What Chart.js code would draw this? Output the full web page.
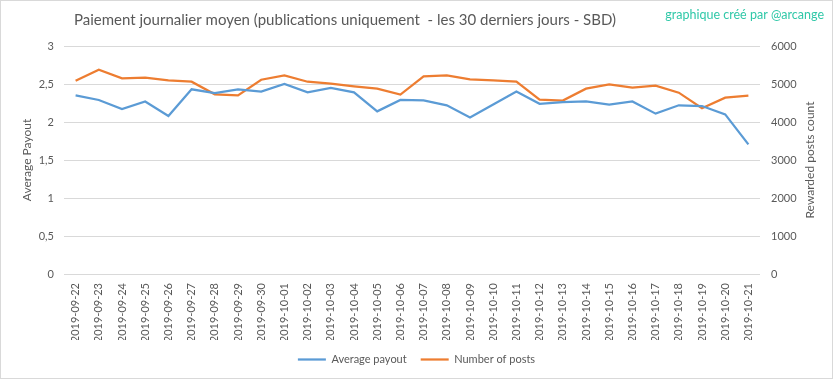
<!DOCTYPE html>
<html>
<head>
<meta charset="utf-8">
<script src="https://cdn.jsdelivr.net/npm/chart.js@4/dist/chart.umd.min.js"></script>
<style>
html,body{margin:0;padding:0;background:#fff;}
#wrap{width:833px;height:379px;}
</style>
</head>
<body>
<div id="wrap"><canvas id="c" width="833" height="379"></canvas></div>
<script>
const chartTitle = "Paiement journalier moyen (publications uniquement  - les 30 derniers jours - SBD)";
const watermark = "graphique créé par @arcange";
const dates = ["2019-09-22","2019-09-23","2019-09-24","2019-09-25","2019-09-26","2019-09-27","2019-09-28","2019-09-29","2019-09-30","2019-10-01","2019-10-02","2019-10-03","2019-10-04","2019-10-05","2019-10-06","2019-10-07","2019-10-08","2019-10-09","2019-10-10","2019-10-11","2019-10-12","2019-10-13","2019-10-14","2019-10-15","2019-10-16","2019-10-17","2019-10-18","2019-10-19","2019-10-20","2019-10-21"];
const averagePayout = [2.35,2.29,2.17,2.27,2.08,2.43,2.38,2.43,2.40,2.50,2.39,2.45,2.39,2.14,2.29,2.285,2.22,2.06,2.23,2.40,2.24,2.26,2.27,2.23,2.27,2.11,2.22,2.21,2.10,1.705];
const numberOfPosts = [5087,5375,5147,5165,5095,5060,4728,4702,5113,5226,5060,5008,4938,4877,4720,5200,5226,5121,5095,5060,4590,4563,4877,4990,4903,4955,4772,4361,4641,4693];
const leftTickLabels = ["0","0,5","1","1,5","2","2,5","3"];
const rightTickLabels = ["0","1000","2000","3000","4000","5000","6000"];
const seriesNames = ["Average payout","Number of posts"];
const leftAxisTitle = "Average Payout";
const rightAxisTitle = "Rewarded posts count";

const FONT = "Lato, 'Open Sans', sans-serif";
const GREY = "#595959";

const decor = {
  id: 'decor',
  beforeDraw(chart) {
    const ctx = chart.ctx;
    ctx.save();
    ctx.fillStyle = '#fff';
    ctx.fillRect(0,0,chart.width,chart.height);
    ctx.restore();
  },
  afterDraw(chart) {
    const ctx = chart.ctx;
    const ca = chart.chartArea;
    ctx.save();
    ctx.strokeStyle = '#d9d9d9';
    ctx.lineWidth = 1;
    ctx.strokeRect(0.5,0.5,chart.width-1,chart.height-1);
    ctx.fillStyle = GREY;
    ctx.font = "15px " + FONT;
    ctx.textAlign = 'center';
    ctx.textBaseline = 'middle';
    ctx.fillText(chartTitle, 345, 20);
    ctx.fillStyle = '#30c8a8';
    ctx.font = "12.5px " + FONT;
    ctx.textAlign = 'right';
    ctx.fillText(watermark, 824, 15);
    // right axis title, reading bottom-to-top
    ctx.save();
    ctx.translate(810, (ca.top + ca.bottom) / 2);
    ctx.rotate(-Math.PI / 2);
    ctx.fillStyle = GREY;
    ctx.font = "12px " + FONT;
    ctx.textAlign = 'center';
    ctx.textBaseline = 'middle';
    ctx.fillText(rightAxisTitle, 0, 0);
    ctx.restore();
    ctx.restore();
  }
};

new Chart(document.getElementById('c'), {
  type: 'line',
  data: {
    labels: dates,
    datasets: [
      { label: seriesNames[0], data: averagePayout, yAxisID: 'y', borderColor: '#5b9bd5', backgroundColor: '#5b9bd5', borderWidth: 2.25, pointRadius: 0, tension: 0 },
      { label: seriesNames[1], data: numberOfPosts, yAxisID: 'y1', borderColor: '#ed7d31', backgroundColor: '#ed7d31', borderWidth: 2.25, pointRadius: 0, tension: 0 }
    ]
  },
  options: {
    responsive: false,
    animation: false,
    events: [],
    layout: { padding: { top: 46, bottom: 4, left: 0, right: 0 } },
    plugins: {
      title: { display: false },
      tooltip: { enabled: false },
      legend: {
        position: 'bottom',
        labels: {
          usePointStyle: true, pointStyle: 'line', pointStyleWidth: 28,
          color: GREY, font: { family: FONT, size: 11 }, padding: 14
        }
      }
    },
    scales: {
      x: {
        offset: true,
        grid: { display: false, drawTicks: false },
        border: { display: false },
        ticks: { color: GREY, font: { family: FONT, size: 11 }, minRotation: 90, maxRotation: 90, autoSkip: false, padding: 9 },
        afterFit(s) { s.height = 66; }
      },
      y: {
        position: 'left',
        min: 0, max: 3,
        afterBuildTicks(s) { s.ticks = leftTickLabels.map((t,i)=>({value: i*0.5})); },
        grid: { color: '#d9d9d9', lineWidth: 1, drawTicks: false },
        border: { display: false },
        ticks: { color: GREY, font: { family: FONT, size: 11 }, padding: 10, callback: (v, i) => leftTickLabels[i] },
        title: { display: true, text: leftAxisTitle, color: GREY, font: { family: FONT, size: 12 }, padding: { top: 20, bottom: 0 } },
        afterFit(s) { s.width = 64; }
      },
      y1: {
        position: 'right',
        min: 0, max: 6000,
        afterBuildTicks(s) { s.ticks = rightTickLabels.map((t,i)=>({value: i*1000})); },
        grid: { display: false, drawTicks: false },
        border: { display: false },
        ticks: { color: GREY, font: { family: FONT, size: 11 }, padding: 11, callback: (v, i) => rightTickLabels[i] },
        title: { display: false },
        afterFit(s) { s.width = 73; }
      }
    }
  },
  plugins: [decor]
});
</script>
</body>
</html>
